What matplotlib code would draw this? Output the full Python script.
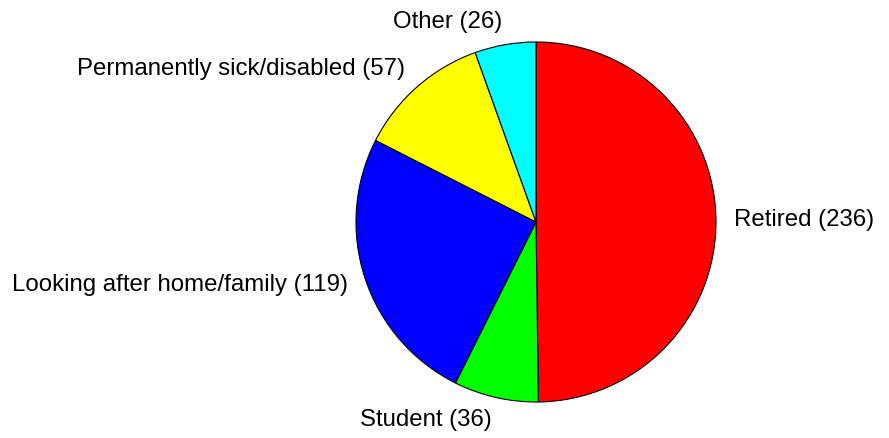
import matplotlib
matplotlib.use("Agg")
import matplotlib.pyplot as plt
from matplotlib.transforms import offset_copy
import numpy as np

categories = ["Retired", "Student", "Looking after home/family", "Permanently sick/disabled", "Other"]
values = [236, 36, 119, 57, 26]
colors = ["#FF0000", "#00FF00", "#0000FF", "#FFFF00", "#00FFFF"]
labels = [f"{c} ({v})" for c, v in zip(categories, values)]

plt.rcParams['font.family'] = ['Liberation Sans', 'DejaVu Sans']

W, H = 889, 439
cx, cy, R = 536, 216, 180
fs = 17.3
fig = plt.figure(figsize=(W / 100, H / 100), dpi=100)
ax = fig.add_axes([0, 0, 1, 1])

ax.pie(values, colors=colors, startangle=90, counterclock=False,
       center=(cx, cy), radius=R, frame=True,
       wedgeprops=dict(edgecolor='black', linewidth=0.8))

# baseline shifted down by half cap height so caps are centred on the anchor
trans = offset_copy(ax.transData, fig=fig, x=0, y=-0.358 * fs, units='points')
frac = np.cumsum([0] + values) / sum(values)
for i, lab in enumerate(labels):
    mid = (frac[i] + frac[i + 1]) / 2
    ang = np.deg2rad(90 - 360 * mid)
    x = cx + 1.1 * R * np.cos(ang)
    y = cy + 4 + 1.128 * R * np.sin(ang)
    ha = 'left' if np.cos(ang) >= 0 else 'right'
    ax.text(x, y, lab, ha=ha, va='baseline', fontsize=fs, color='black',
            transform=trans)

ax.set_xlim(0, W)
ax.set_ylim(0, H)
ax.set_aspect('equal')
ax.axis('off')

fig.savefig("out.png", dpi=100, facecolor='white')
